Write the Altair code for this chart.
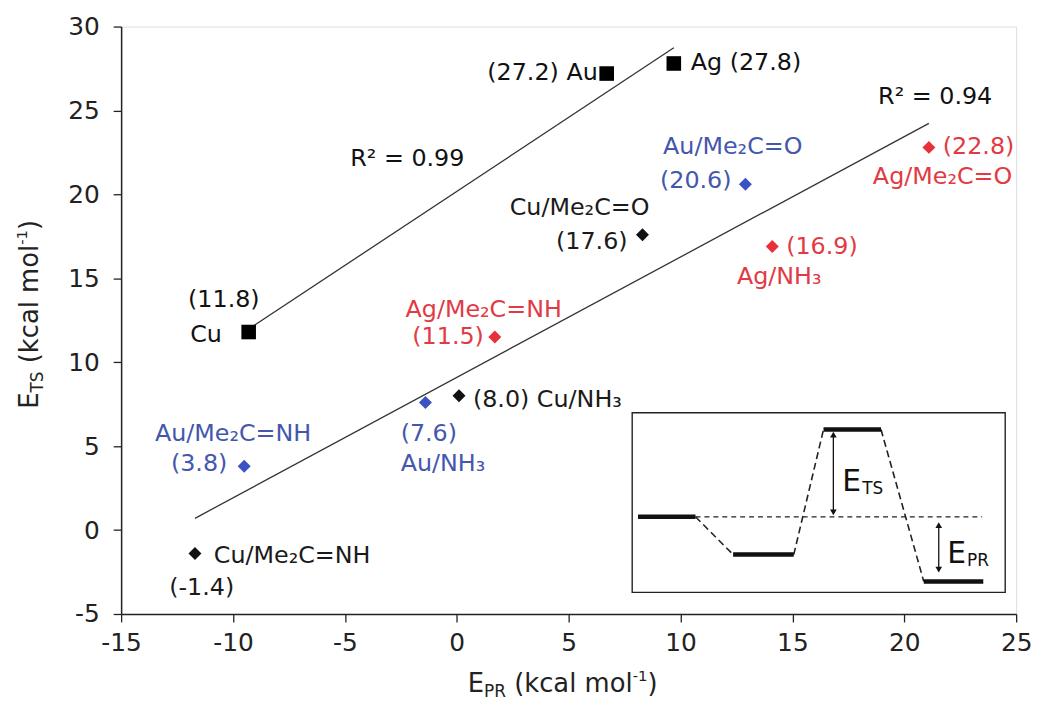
import altair as alt
import pandas as pd

# ---------------- data ----------------
sq_names = ["Cu", "Au", "Ag"]
sq_epr = [-9.3, 6.7, 9.7]
sq_ets = [11.8, 27.2, 27.8]

dm_names = ["Cu/Me₂C=O", "Au/Me₂C=O", "Ag/Me₂C=O", "Ag/NH₃", "Ag/Me₂C=NH",
            "Cu/NH₃", "Au/NH₃", "Au/Me₂C=NH", "Cu/Me₂C=NH"]
dm_metal = ["Cu", "Au", "Ag", "Ag", "Ag", "Cu", "Au", "Au", "Cu"]
dm_epr = [8.3, 12.9, 21.1, 14.1, 1.7, 0.1, -1.4, -9.5, -11.7]
dm_ets = [17.6, 20.6, 22.8, 16.9, 11.5, 8.0, 7.6, 3.8, -1.4]

r2_texts = ["R² = 0.99", "R² = 0.94"]
r2_x = [-4.76, 18.83]
r2_y = [22.1, 25.8]

x_ticks = [-15, -10, -5, 0, 5, 10, 15, 20, 25]
y_ticks = [-5, 0, 5, 10, 15, 20, 25, 30]

# inset schematic (energy profile), in the main chart's units
lvl_x1 = [8.10, 12.35, 16.39, 20.87]
lvl_x2 = [10.67, 15.06, 18.96, 23.53]
lvl_y = [0.79, -1.46, 5.99, -3.06]
box_x = [7.84, 24.51]
box_y = [-3.71, 6.99]
ref_x = [10.67, 23.48]
arrow_x = [16.83, 21.54]
arrow_top = [5.90, 0.51]
arrow_bot = [0.85, -2.56]
inset_lbl = [("E", "TS"), ("E", "PR")]
inset_lbl_x = [17.23, 21.92]
inset_lbl_y = [2.30, -1.97]

# ---------------- styling ----------------
FONT = "DejaVu Sans"
metal_color = {"Cu": "#111111", "Au": "#3a52c2", "Ag": "#e8303a"}
metal_text = {"Cu": "#1a1a1a", "Au": "#4457ad", "Ag": "#e23a44"}

XS = alt.Scale(domain=[-15, 25], nice=False, zero=False)
YS = alt.Scale(domain=[-5, 30], nice=False, zero=False)
XA = alt.Axis(title=None, values=x_ticks, grid=False, tickSize=8, labelPadding=9,
              labelFontSize=25, labelFont=FONT, labelColor="#222", domainColor="#222",
              tickColor="#222", domainWidth=1.5, tickWidth=1.3, labelFlush=False,
              labelExpr="toString(datum.value)")
YA = alt.Axis(title=None, values=y_ticks, grid=False, tickSize=8, labelPadding=14,
              labelFontSize=25, labelFont=FONT, labelColor="#222", domainColor="#222",
              tickColor="#222", domainWidth=1.5, tickWidth=1.3, labelFlush=False,
              labelExpr="toString(datum.value)")


def X(f="x"):
    return alt.X(f"{f}:Q", scale=XS, axis=XA)


def Y(f="y"):
    return alt.Y(f"{f}:Q", scale=YS, axis=YA)


sq_df = pd.DataFrame({"x": sq_epr, "y": sq_ets, "name": sq_names})
dm_df = pd.DataFrame({"x": dm_epr, "y": dm_ets, "name": dm_names, "metal": dm_metal})

layers = []

# regression lines
for d in (sq_df, dm_df):
    layers.append(
        alt.Chart(d).transform_regression("x", "y")
        .mark_line(color="#333333", strokeWidth=1.3)
        .encode(x=X(), y=Y())
    )

# points
layers.append(
    alt.Chart(sq_df).mark_point(shape="square", filled=True, size=216, opacity=1, color="black")
    .encode(x=X(), y=Y())
)
layers.append(
    alt.Chart(dm_df).mark_point(shape="diamond", filled=True, size=170, opacity=1)
    .encode(x=X(), y=Y(),
            color=alt.Color("metal:N",
                            scale=alt.Scale(domain=list(metal_color), range=list(metal_color.values())),
                            legend=None))
)

# labels: (kind, index, template, align, dx, dy)
label_layout = [
    ("sq", 0, "{n}", "right", -27, 3),
    ("sq", 0, "({v})", "center", -25, -32),
    ("sq", 1, "({v}) {n}", "right", -9, 0),
    ("sq", 2, "{n} ({v})", "left", 17, 0),
    ("dm", 0, "{n}", "right", 7, -27),
    ("dm", 0, "({v})", "right", -15, 7),
    ("dm", 1, "{n}", "left", -83, -38),
    ("dm", 1, "({v})", "right", -14, -3),
    ("dm", 2, "({v})", "left", 14, 0),
    ("dm", 2, "{n}", "right", 84, 30),
    ("dm", 3, "({v})", "left", 14, 1),
    ("dm", 3, "{n}", "center", 7, 31),
    ("dm", 4, "{n}", "left", -90, -27),
    ("dm", 4, "({v})", "right", -11, 0),
    ("dm", 5, "({v}) {n}", "left", 14, 4),
    ("dm", 6, "({v})", "left", -25, 32),
    ("dm", 6, "{n}", "left", -25, 62),
    ("dm", 7, "{n}", "left", -90, -32),
    ("dm", 7, "({v})", "right", -17, -2),
    ("dm", 8, "{n}", "left", 19, 2),
    ("dm", 8, "({v})", "left", -26, 35),
]
for kind, i, tpl, align, dx, dy in label_layout:
    if kind == "sq":
        x, y, n, col = sq_epr[i], sq_ets[i], sq_names[i], "#111111"
    else:
        x, y, n, col = dm_epr[i], dm_ets[i], dm_names[i], metal_text[dm_metal[i]]
    txt = tpl.format(n=n, v=f"{y:.1f}")
    layers.append(
        alt.Chart(pd.DataFrame({"x": [x], "y": [y], "t": [txt]}))
        .mark_text(align=align, baseline="middle", dx=dx, dy=dy, fontSize=24, font=FONT, color=col)
        .encode(x=X(), y=Y(), text="t:N")
    )

# R² annotations
layers.append(
    alt.Chart(pd.DataFrame({"x": r2_x, "y": r2_y, "t": r2_texts}))
    .mark_text(align="left", baseline="middle", fontSize=24, font=FONT, color="#111111")
    .encode(x=X(), y=Y(), text="t:N")
)

# ---------------- inset ----------------
layers.append(
    alt.Chart(pd.DataFrame({"x": [box_x[0]], "x2": [box_x[1]], "y": [box_y[0]], "y2": [box_y[1]]}))
    .mark_rect(fill="white", stroke="#222", strokeWidth=1.4)
    .encode(x=X(), x2="x2:Q", y=Y(), y2="y2:Q")
)
layers.append(
    alt.Chart(pd.DataFrame({"x": [ref_x[0]], "x2": [ref_x[1]], "y": [lvl_y[0]]}))
    .mark_rule(color="#222", strokeWidth=1.2, strokeDash=[5, 4])
    .encode(x=X(), x2="x2:Q", y=Y())
)
con = pd.DataFrame({"x": lvl_x2[:-1], "y": lvl_y[:-1], "x2": lvl_x1[1:], "y2": lvl_y[1:]})
layers.append(
    alt.Chart(con).mark_rule(color="#222", strokeWidth=1.6, strokeDash=[7, 4])
    .encode(x=X(), x2="x2:Q", y=Y(), y2="y2:Q")
)
lv = pd.DataFrame({"x": lvl_x1, "x2": lvl_x2, "y": lvl_y})
layers.append(
    alt.Chart(lv).mark_rule(color="#111", strokeWidth=4.5)
    .encode(x=X(), x2="x2:Q", y=Y())
)
head = 0.21
ar = pd.DataFrame({"x": arrow_x,
                   "y": [t - head for t in arrow_top],
                   "y2": [b + head for b in arrow_bot]})
layers.append(
    alt.Chart(ar).mark_rule(color="#111", strokeWidth=1.3)
    .encode(x=X(), y=Y(), y2="y2:Q")
)
layers.append(
    alt.Chart(pd.DataFrame({"x": arrow_x, "y": [t - head for t in arrow_top]}))
    .mark_point(shape="triangle-up", filled=True, size=45, opacity=1, color="#111")
    .encode(x=X(), y=Y())
)
layers.append(
    alt.Chart(pd.DataFrame({"x": arrow_x, "y": [b + head for b in arrow_bot]}))
    .mark_point(shape="triangle-down", filled=True, size=45, opacity=1, color="#111")
    .encode(x=X(), y=Y())
)
for (main, sub), lx, ly in zip(inset_lbl, inset_lbl_x, inset_lbl_y):
    d = pd.DataFrame({"x": [lx], "y": [ly]})
    layers.append(
        alt.Chart(d).mark_text(text=main, align="left", baseline="alphabetic",
                               fontSize=30, font=FONT, color="#111")
        .encode(x=X(), y=Y())
    )
    layers.append(
        alt.Chart(d).mark_text(text=sub, align="left", baseline="alphabetic", dx=20, dy=3,
                               fontSize=17, font=FONT, color="#111")
        .encode(x=X(), y=Y())
    )

# ---------------- axis titles (with sub/superscripts) ----------------
W = {" ": .318, "(": .390, ")": .390, "-": .361, "1": .636, "E": .632, "P": .603,
     "R": .695, "T": .611, "S": .635, "k": .579, "c": .550, "a": .613, "l": .278,
     "m": .974, "o": .612}


def tw(s, size):
    return sum(W.get(ch, .6) for ch in s) * size


def title_pieces(sub):
    # (text, font size, baseline shift, extra gap before)
    return [("E", 26, 0, 0), (sub, 17, 5, 0), ("(kcal mol", 26, 0, tw(" ", 26)),
            ("-1", 15, -11, 0), (")", 26, 0, 0)]


PLOT_W, PLOT_H = 902, 592

# x title
pieces = title_pieces("PR")
total = sum(tw(s, f) + g for s, f, _, g in pieces)
cx, base_y = 445, 671
cur = cx - total / 2
for s, f, off, gap in pieces:
    cur += gap
    layers.append(
        alt.Chart(pd.DataFrame({"a": [0]}))
        .mark_text(text=s, align="left", baseline="alphabetic", fontSize=f, font=FONT,
                   color="#222", dy=off)
        .encode(x=alt.value(cur), y=alt.value(base_y))
    )
    cur += tw(s, f)

# y title (rotated)
pieces = title_pieces("TS")
total = sum(tw(s, f) + g for s, f, _, g in pieces)
bx, cy = -84, 290
cur = 0
for s, f, off, gap in pieces:
    cur += gap
    layers.append(
        alt.Chart(pd.DataFrame({"a": [0]}))
        .mark_text(text=s, align="left", baseline="alphabetic", fontSize=f, font=FONT,
                   color="#222", angle=270, dx=cur, dy=off)
        .encode(x=alt.value(bx), y=alt.value(cy + total / 2))
    )
    cur += tw(s, f)

chart = (
    alt.layer(*layers)
    .properties(width=PLOT_W, height=PLOT_H,
                padding={"left": 114, "top": 16, "right": 22, "bottom": 87},
                autosize=alt.AutoSizeParams(type="none"))
    .configure_view(stroke="#222", strokeWidth=1.5)
    .configure(font=FONT)
)

chart.save("out.html", embed_options={"renderer": "svg", "actions": False})
